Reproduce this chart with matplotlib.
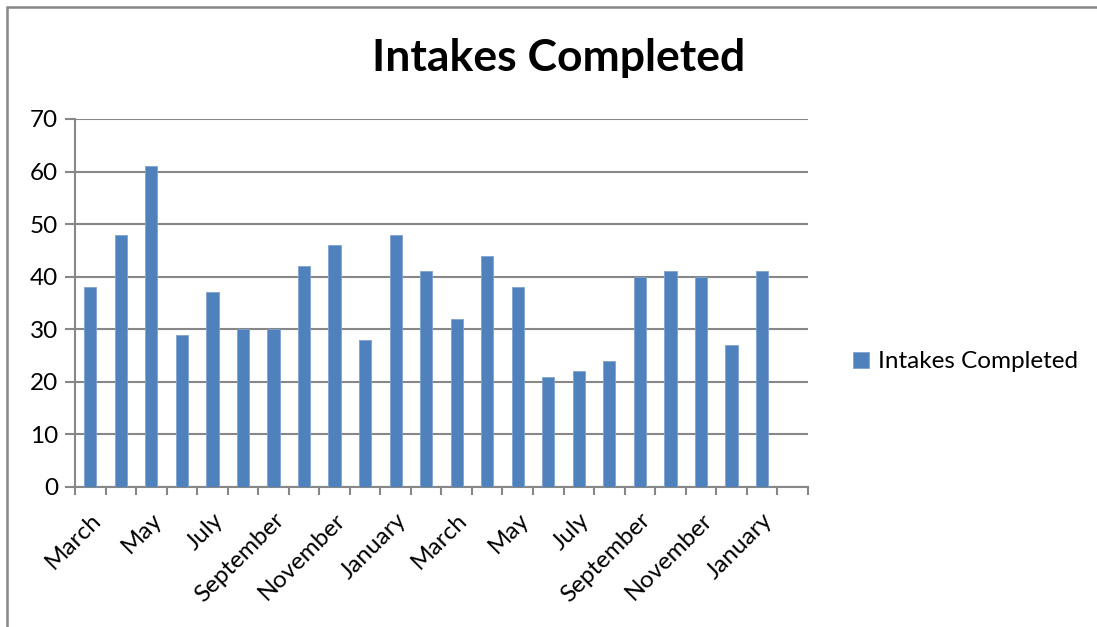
import numpy as np
import matplotlib
matplotlib.use('Agg')
import matplotlib.pyplot as plt
from matplotlib.patches import Rectangle

# monthly intakes, March through the following February two years on
months = ["March", "April", "May", "June", "July", "August", "September",
          "October", "November", "December", "January", "February",
          "March", "April", "May", "June", "July", "August", "September",
          "October", "November", "December", "January", "February"]
intakes = [38, 48, 61, 29, 37, 30, 30, 42, 46, 28, 48, 41,
           32, 44, 38, 21, 22, 24, 40, 41, 40, 27, 41, np.nan]
series_name = "Intakes Completed"

bar_color = "#4F81BD"
grid_color = "#878787"
font = "Lato"

plt.rcParams["font.family"] = [font, "DejaVu Sans"]

fig = plt.figure(figsize=(10.97, 6.27), dpi=100)
ax = fig.add_axes([0.0684, 0.2233, 0.668, 0.587])

xs = np.arange(len(months))
ax.bar(xs, intakes, width=0.4, color=bar_color, edgecolor="#7FA3D0",
       linewidth=0.6, zorder=3, label=series_name)

ax.set_xlim(-0.5, len(months) - 0.5)
ax.set_ylim(0, 70)
ax.set_yticks(range(0, 71, 10))
ax.yaxis.grid(True, color=grid_color, linewidth=1.5, zorder=0)

# every other month labelled, tick marks on category boundaries
ax.set_xticks(xs[::2])
ax.set_xticklabels(months[::2], rotation=45, ha="right", va="top",
                   rotation_mode="anchor")
ax.set_xticks(np.arange(-0.5, len(months)), minor=True)
ax.tick_params(axis="x", which="major", length=0, pad=16, labelsize=17.5)
ax.tick_params(axis="x", which="minor", length=6, width=1.5, color=grid_color,
               direction="out")
ax.tick_params(axis="y", length=7, width=1.5, color=grid_color, labelsize=17.5,
               pad=5)

for side in ["top", "right"]:
    ax.spines[side].set_visible(False)
for side in ["left", "bottom"]:
    ax.spines[side].set_color(grid_color)
    ax.spines[side].set_linewidth(1.5)

fig.suptitle(series_name, x=0.509, y=1 - 58 / 627, va="center",
             fontsize=32, fontweight="bold")

ax.legend(loc="center left", bbox_to_anchor=(1.045, 0.34), frameon=False,
          fontsize=17.5, handlelength=0.65, handleheight=0.65,
          handletextpad=0.4, borderpad=0)

# outer chart frame
fig.patches.append(Rectangle((7 / 1097, -0.1), 1.2, 1 - 7 / 627 + 0.1,
                             transform=fig.transFigure, fill=False,
                             edgecolor=grid_color, linewidth=1.8))

fig.savefig("out.png", dpi=100)
